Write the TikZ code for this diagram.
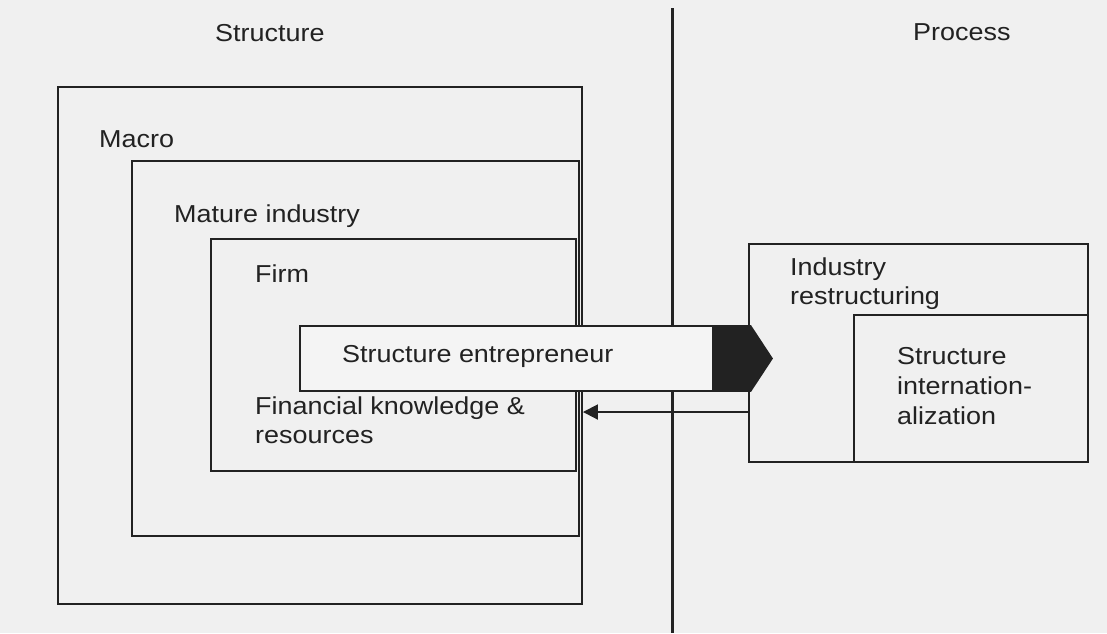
\documentclass[tikz,border=0pt]{standalone}
\usepackage{fontspec}
\usetikzlibrary{arrows.meta}
\setmainfont{Liberation Sans}[FakeStretch=1.1]
\definecolor{bgc}{HTML}{F0F0F0}
\definecolor{ink}{HTML}{222222}
\definecolor{boxfill}{HTML}{F4F4F4}
\begin{document}
\begin{tikzpicture}[x=1pt,y=-1pt,
  every node/.style={font=\fontsize{24.5}{29}\selectfont, text=ink},
  box/.style={draw=ink, line width=1.9pt, fill=bgc, inner sep=0pt, rectangle},
  lbl/.style={anchor=base west, inner sep=0pt},
  arr/.style={draw=ink, line width=1.9pt, -{Triangle[length=15pt,width=15pt]}}
]
\useasboundingbox (0,0) rectangle (1107,633);
\fill[bgc] (0,0) rectangle (1107,633);
% nested structure boxes
\node[box, minimum width=524, minimum height=517] (macro) at (320,345.5) {};
\node[box, minimum width=447, minimum height=375] (mature) at (355.5,348.5) {};
\node[box, minimum width=365, minimum height=232] (firm) at (393.5,355) {};
% divider
\coordinate (dtop) at (672.5,8);
\coordinate (dbot) at (672.5,633);
\draw[ink, line width=2.4pt] (dtop) -- (dbot);
% process boxes
\node[box, minimum width=339, minimum height=218] (ir) at (918.5,353) {};
\node[box, minimum width=234, minimum height=147] (si) at (971,388.5) {};
% feedback arrow
\draw[arr] (ir.west |- 0,412) -- (macro.east |- 0,412);
% structure entrepreneur
\node[draw=ink, line width=1.9pt, fill=boxfill, inner sep=0pt, minimum width=413, minimum height=65] (se) at (506.5,358.5) {};
\fill[ink] (se.north east) -- ++(37,0) -- ([xshift=59pt]se.east) -- ([xshift=37pt]se.south east) -- (se.south east) -- cycle;
% labels
\node[lbl] (tstruct) at (215,41) {Structure};
\node[lbl] (tproc) at (913,40) {Process};
\node[lbl] (tmacro) at (99,147) {Macro};
\node[lbl] (tmature) at (174,222) {Mature industry};
\node[lbl] (tfirm) at (255,282) {Firm};
\node[lbl] (tse) at (342,362) {Structure entrepreneur};
\node[lbl] (tfin1) at (255,414) {Financial knowledge \&};
\node[lbl] (tfin2) at (255,443) {resources};
\node[lbl] (tind1) at (790,275) {Industry};
\node[lbl] (tind2) at (790,304) {restructuring};
\node[lbl] (tsi1) at (897,364) {Structure};
\node[lbl] (tsi2) at (897,394) {internation-};
\node[lbl] (tsi3) at (897,424) {alization};
\end{tikzpicture}
\end{document}
